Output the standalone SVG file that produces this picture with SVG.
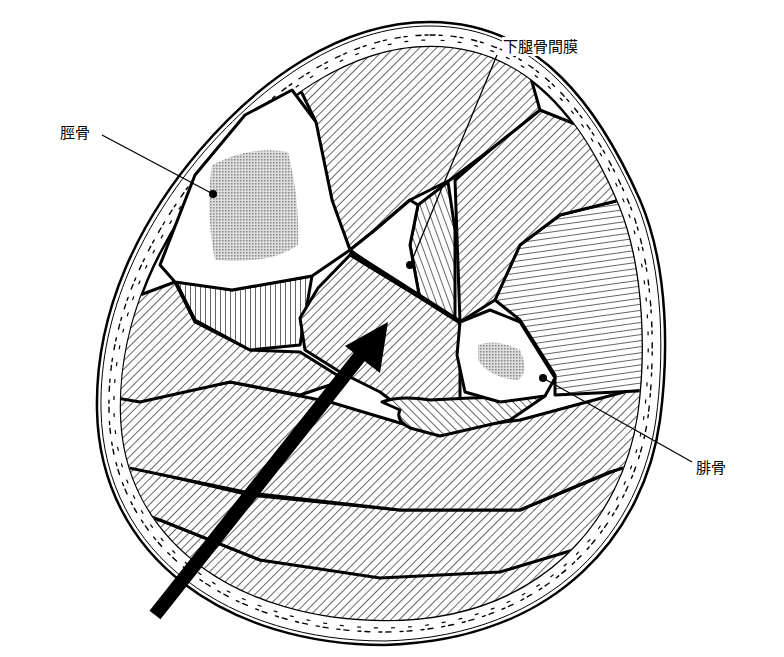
<svg xmlns="http://www.w3.org/2000/svg" width="784" height="657" viewBox="0 0 784 657">
<style>
.m{stroke:#000;stroke-width:3;stroke-linejoin:round}
.lb{font-family:"Noto Sans CJK JP","Liberation Serif",serif;font-size:15px;fill:#000}
.ld{stroke:#000;stroke-width:1.3;fill:none}
</style>
<defs>
<pattern id="d1" width="6" height="6" patternUnits="userSpaceOnUse" patternTransform="rotate(45)"><rect width="6" height="6" fill="#fff"/><line x1="0" y1="0" x2="0" y2="6" stroke="#000" stroke-width="1.2"/></pattern>
<pattern id="d2" width="6" height="6" patternUnits="userSpaceOnUse" patternTransform="rotate(-45)"><rect width="6" height="6" fill="#fff"/><line x1="0" y1="0" x2="0" y2="6" stroke="#000" stroke-width="1.2"/></pattern>
<pattern id="d3" width="6" height="6" patternUnits="userSpaceOnUse" patternTransform="rotate(-20)"><rect width="6" height="6" fill="#fff"/><line x1="0" y1="0" x2="0" y2="6" stroke="#000" stroke-width="1.2"/></pattern>
<pattern id="h" width="6" height="6" patternUnits="userSpaceOnUse" patternTransform="rotate(-8)"><rect width="6" height="6" fill="#fff"/><line x1="0" y1="0" x2="6" y2="0" stroke="#000" stroke-width="1.2"/></pattern>
<pattern id="v" width="5" height="5" patternUnits="userSpaceOnUse"><rect width="5" height="5" fill="#fff"/><line x1="0" y1="0" x2="0" y2="5" stroke="#000" stroke-width="1.2"/></pattern>
<pattern id="g" width="3" height="3" patternUnits="userSpaceOnUse"><rect width="3" height="3" fill="#ddd"/><rect width="1.5" height="1.5" fill="#888"/></pattern>
<path id="inner" d="M430,47 C530,47 585,125 618,205 C645,270 645,360 637,415 C622,515 545,620 385,620 C245,620 122,545 121,410 C120,320 160,235 218,168 C275,102 350,47 430,47 Z"/>
<clipPath id="cp"><use href="#inner"/></clipPath>
</defs>
<rect width="784" height="657" fill="#fff"/>
<g id="skin">
<path d="M430,22 C540,22 600,110 640,200 C670,270 668,360 660,420 C645,530 560,640 385,645 C230,645 100,560 97,410 C95,310 140,220 200,150 C260,80 340,22 430,22 Z" fill="#fff" stroke="#000" stroke-width="2.5"/>
<path d="M430,26 C537,26 596,112 636,201 C665,270 664,360 656,419 C641,527 557,636 385,641 C232,641 104,557 101,410 C99,312 144,223 203,153 C263,84 342,26 430,26 Z" fill="none" stroke="#000" stroke-width="1"/>
<path d="M430,35 C535,35 593,118 629,203 C656,270 655,360 648,417 C633,522 552,630 385,632 C238,632 111,552 109,410 C107,315 152,229 209,160 C268,92 345,35 430,35 Z" fill="none" stroke="#000" stroke-width="1.4" stroke-dasharray="5 4 3 9" stroke-linecap="round"/>
<path d="M430,40 C533,40 590,121 625,204 C652,270 651,360 644,416 C629,519 550,626 385,628 C241,628 116,549 114,410 C112,317 156,232 213,164 C271,96 347,40 430,40 Z" fill="none" stroke="#000" stroke-width="1.2" stroke-dasharray="3 14" stroke-dashoffset="6" stroke-linecap="round"/>
<use href="#inner" fill="#fff" stroke="#000" stroke-width="2.5"/>
</g>
<g id="muscles" clip-path="url(#cp)">
<path id="post-low" class="m" fill="url(#d1)" d="M100,500 L160,520 L260,560 L380,575 L500,570 L600,535 L700,560 L700,700 L100,700 Z"/>
<path id="gastro" class="m" fill="url(#d1)" d="M100,460 L250,495 L400,510 L520,510 L640,460 L640,530 L590,545 L500,572 L380,578 L260,560 L160,520 L100,500 Z"/>
<path id="soleus" class="m" fill="url(#d1)" d="M100,395 L140,400 L230,382 L330,402 L430,432 L520,420 L650,385 L650,460 L610,472 L520,510 L400,510 L250,493 L100,462 Z"/>
<path id="crescent" class="m" fill="url(#d1)" d="M100,310 L175,282 L195,322 L250,350 L300,352 L345,380 L300,395 L230,382 L140,402 L100,395 Z"/>
<path id="vert" class="m" fill="url(#v)" d="M175,280 L232,290 L312,276 L300,345 L250,350 L195,320 Z"/>
<path id="lat" class="m" fill="url(#h)" d="M495,300 L520,245 L560,215 L660,190 L660,300 L660,390 L555,395 L555,375 L520,320 Z"/>
<path id="ant-right" class="m" fill="url(#d1)" d="M460,322 L455,180 L490,150 L540,110 L640,150 L660,190 L560,215 L520,245 L495,300 Z"/>
<path id="steep" class="m" fill="url(#d3)" d="M455,322 L420,300 L410,245 L418,205 L448,182 L455,230 Z"/>
<path id="ant-top" class="m" fill="url(#d1)" d="M297,83 L350,40 L430,30 L520,40 L540,110 L490,150 L450,180 L410,200 L375,230 L350,250 L333,205 L315,120 Z"/>
<path id="gap" class="m" fill="#fff" d="M350,250 L375,230 L410,200 L418,205 L410,245 L420,300 Z"/>
<path id="tib-post" class="m" fill="url(#d1)" d="M300,318 L318,288 L350,255 L460,322 L460,400 L440,432 L420,422 L380,392 L340,372 L305,350 Z"/>
<path id="fhl" class="m" fill="url(#d2)" d="M382,402 Q400,395 430,400 L470,398 L545,396 L510,420 L440,436 L410,428 Q395,420 400,410 Z"/>
</g>
<g id="tibia">
<path class="m" fill="#fff" d="M160,265 L195,175 L245,115 L292,90 L316,122 L332,200 L350,250 L312,276 L232,290 L175,282 Z"/>
<path d="M212,165 Q250,145 288,152 Q300,200 298,245 Q270,265 215,260 Q205,210 212,165 Z" fill="url(#g)"/>
</g>
<g id="fibula">
<path class="m" fill="#fff" d="M460,322 L490,310 L520,322 L555,378 L545,396 L500,402 L465,392 L457,355 Z"/>
<path d="M478,345 Q495,338 520,350 Q530,372 518,380 Q490,378 478,360 Z" fill="url(#g)"/>
</g>
<g id="connectors">
<line x1="350" y1="252" x2="460" y2="322" stroke="#000" stroke-width="5"/>
<line x1="155" y1="615" x2="360" y2="356" stroke="#000" stroke-width="14"/>
<polygon points="388,322 380,373 345,346" fill="#000"/>
<line class="ld" x1="497" y1="55" x2="410" y2="265"/><circle cx="410" cy="265" r="4"/>
<line class="ld" x1="102" y1="135" x2="213" y2="194"/><circle cx="213" cy="194" r="4"/>
<line class="ld" x1="692" y1="462" x2="543" y2="378"/><circle cx="543" cy="378" r="4"/>
</g>
<rect x="502" y="37" width="78" height="19" fill="#fff"/>
<text class="lb" x="503" y="52">下腿骨間膜</text>
<text class="lb" x="60" y="138">脛骨</text>
<text class="lb" x="696" y="473">腓骨</text>
</svg>
